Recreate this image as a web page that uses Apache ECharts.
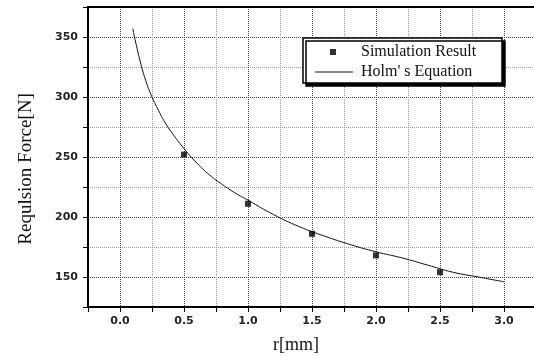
<!DOCTYPE html>
<html>
<head>
<meta charset="utf-8">
<script src="https://cdn.jsdelivr.net/npm/echarts@6/dist/echarts.min.js"></script>
<style>
  html, body { margin: 0; padding: 0; background: #fff; }
  #chart { width: 534px; height: 356px; }
</style>
</head>
<body>
<div id="chart"></div>
<script>
// simulation points
const simR = [0.5, 1.0, 1.5, 2.0, 2.5];
const simF = [252, 211, 186, 168, 154];

// Holm's equation curve
const holmR = [0.1, 0.15, 0.2, 0.25, 0.3, 0.35, 0.4, 0.5, 0.6, 0.7, 0.8, 0.9, 1.0, 1.2, 1.4, 1.6, 1.8, 2.0, 2.2, 2.4, 2.6, 2.8, 3.0];
const holmF = [357, 333, 314, 300, 289, 279, 271, 257, 245, 235, 227, 220, 214, 202, 192, 184, 177, 171, 166, 160, 154, 150, 146];

const xTicks = ['0.0', '0.5', '1.0', '1.5', '2.0', '2.5', '3.0'];

const chart = echarts.init(document.getElementById('chart'), null, { renderer: 'canvas' });

const serif = 'Liberation Serif';
const labelFont = { fontFamily: 'DejaVu Sans', fontWeight: 'bold', fontSize: 11, color: '#222' };
// first line is a minor one (min sits half a step below a labelled tick)
const gridLine = { show: true, lineStyle: { type: 'dotted', color: ['#999', '#444'], width: 1 } };

const option = {
  backgroundColor: '#fff',
  animation: false,
  grid: { left: 88, top: 7, right: -2, bottom: 49, show: false, outerBoundsMode: 'none', containLabel: false },
  xAxis: [{
    type: 'value',
    min: -0.25, max: 3.25, interval: 0.25,
    name: 'r[mm]',
    nameLocation: 'middle',
    nameGap: 29,
    nameTextStyle: { fontFamily: serif, fontSize: 18, color: '#111', padding: [0, 32, 0, 0] },
    axisLine: { show: true, onZero: false, lineStyle: { color: '#000', width: 2 } },
    axisTick: { show: true, length: 5, lineStyle: { color: '#000' } },
    axisLabel: Object.assign({
      margin: 9,
      formatter: v => {
        const s = v.toFixed(1);
        return xTicks.includes(s) && Math.abs(v * 2 - Math.round(v * 2)) < 1e-6 ? s : '';
      }
    }, labelFont),
    splitLine: gridLine
  }, {
    // top frame line only
    type: 'value',
    position: 'top',
    min: -0.25, max: 3.25,
    axisLine: { show: true, onZero: false, lineStyle: { color: '#000', width: 2 } },
    axisTick: { show: false },
    axisLabel: { show: false },
    splitLine: { show: false }
  }],
  yAxis: {
    type: 'value',
    min: 125, max: 375, interval: 25,
    name: 'Requlsion Force[N]',
    nameLocation: 'middle',
    nameGap: 52,
    nameTextStyle: { fontFamily: serif, fontSize: 19, color: '#111', padding: [0, 24, 0, 0] },
    axisLine: { show: true, onZero: false, lineStyle: { color: '#000', width: 2 } },
    axisTick: { show: true, length: 5, lineStyle: { color: '#000' } },
    axisLabel: Object.assign({
      margin: 10,
      formatter: v => (v % 50 === 0 ? String(v) : '')
    }, labelFont),
    splitLine: gridLine
  },
  graphic: [{
    type: 'rect',
    z: 3,
    shape: { x: 303, y: 38, width: 199, height: 45 },
    style: {
      fill: '#fff', stroke: '#000', lineWidth: 1.5,
      shadowColor: '#000', shadowBlur: 0, shadowOffsetX: 3, shadowOffsetY: 3
    }
  }],
  legend: [{
    z: 10,
    left: 325, top: 39,
    data: [{ name: 'Simulation Result', icon: 'rect' }],
    itemWidth: 6, itemHeight: 6,
    textStyle: { fontFamily: serif, fontSize: 16, color: '#111', padding: [0, 0, 0, 20] }
  }, {
    z: 10,
    left: 310, top: 59,
    data: [{ name: 'Holm\' s Equation', icon: 'rect' }],
    itemWidth: 38, itemHeight: 1.2,
    itemStyle: { color: '#111' },
    textStyle: { fontFamily: serif, fontSize: 16, color: '#111', padding: [0, 0, 0, 3] }
  }],
  series: [{
    name: 'Holm\' s Equation',
    type: 'line',
    data: holmR.map((r, i) => [r, holmF[i]]),
    smooth: true,
    showSymbol: false,
    symbol: 'none',
    lineStyle: { color: '#111', width: 1 },
    itemStyle: { color: '#111' },
    z: 4
  }, {
    name: 'Simulation Result',
    type: 'scatter',
    data: simR.map((r, i) => [r, simF[i]]),
    symbol: 'rect',
    symbolSize: 6,
    itemStyle: { color: '#000' },
    z: 5
  }]
};

chart.setOption(option);
</script>
</body>
</html>
